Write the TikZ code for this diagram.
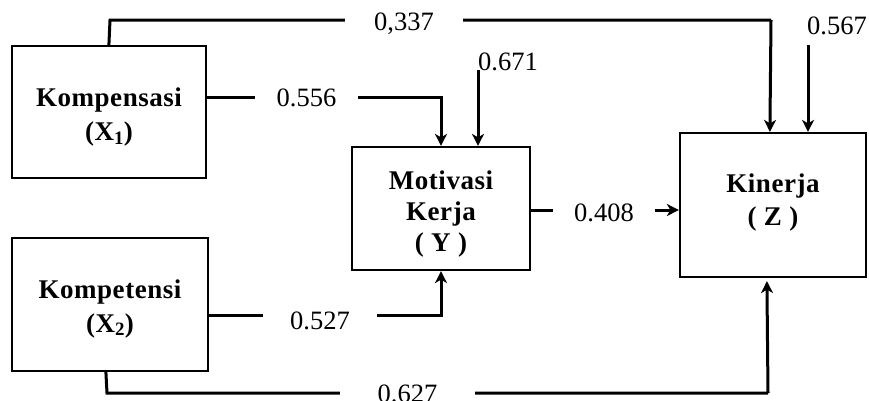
\documentclass[tikz,border=0pt]{standalone}
\usepackage{fontspec}
\setmainfont{Liberation Serif}
\usetikzlibrary{arrows.meta}
\begin{document}
\begin{tikzpicture}[x=1pt,y=-1pt,
  box/.style={draw,line width=2.2pt,inner sep=0pt},
  boxtext/.style={inner sep=0pt,align=center,
    font=\fontsize{27}{34}\selectfont\bfseries\addfontfeature{LetterSpace=2}},
  conn/.style={line width=3pt},
  arr/.style={conn,-{Stealth[length=12pt,width=12pt,inset=3.5pt]}},
  coef/.style={fill=white,inner sep=0pt,minimum height=22pt,
    font=\fontsize{26.5}{30}\selectfont}]
\useasboundingbox (0,0) rectangle (869,400);

% variable boxes
\node[box,minimum width=194pt,minimum height=132pt] (X1) at (109,112) {};
\node[box,minimum width=196pt,minimum height=133pt] (X2) at (110,304.5) {};
\node[box,minimum width=178pt,minimum height=123pt] (Y) at (441,208.5) {};
\node[box,minimum width=186pt,minimum height=144pt] (Z) at (773,205) {};

% box captions
\node[boxtext] (tX1) at ([yshift=-5pt]X1.center) {Kompensasi\\(X\textsubscript{1})};
\node[boxtext] (tX2) at ([yshift=-4pt]X2.center) {Kompetensi\\(X\textsubscript{2})};
\node[boxtext,font=\fontsize{27}{31}\selectfont\bfseries\addfontfeature{LetterSpace=2}]
  (tY) at ([yshift=-5pt]Y.center) {Motivasi\\Kerja\\( Y )};
\node[boxtext,font=\fontsize{27}{33}\selectfont\bfseries\addfontfeature{LetterSpace=2}]
  (tZ) at ([yshift=3pt]Z.center) {Kinerja\\( Z )};

% bends of the long paths
\coordinate (t1) at (110,20);
\coordinate (t2) at (771,20);
\coordinate (b1) at (107,393);
\coordinate (b2) at (768,393);
\coordinate (e567) at (808,45);
\coordinate (e671) at (478,70);

% paths
\draw[conn] ([xshift=98pt]X1.north west) -- (t1) -- (t2);
\draw[arr] (t2) -- ([xshift=91pt]Z.north west);
\draw[arr] ([yshift=15pt]X1.east) -| (Y.north);
\draw[arr] ([yshift=-10.5pt]X2.east) -| (Y.south);
\draw[arr] ([yshift=-1.5pt]Y.east) -- ([yshift=-1.5pt]Y.east -| Z.west);
\draw[conn] ([xshift=95pt]X2.south west) -- (b1) -- (b2);
\draw[arr] (b2) -- ([xshift=88pt,yshift=-3pt]Z.south west);
\draw[arr] (e567) -- (e567 |- Z.north);
\draw[arr] (e671) -- (e671 |- Y.north);

% path coefficients
\node[coef,minimum width=118pt] (p337) at (404,23.5) {0,337};
\node[coef,minimum width=103pt] (p556) at (306.5,98) {0.556};
\node[coef,minimum width=102pt] (p408) at (604,212.5) {0.408};
\node[coef,minimum width=114pt] (p527) at (320,320.5) {0.527};
\node[coef,minimum width=135pt] (p627) at (407.5,394) {0.627};
\node[coef,fill=none] (p567) at (837,26) {0.567};
\node[coef,fill=none] (p671) at (508,61.5) {0.671};
\end{tikzpicture}
\end{document}
